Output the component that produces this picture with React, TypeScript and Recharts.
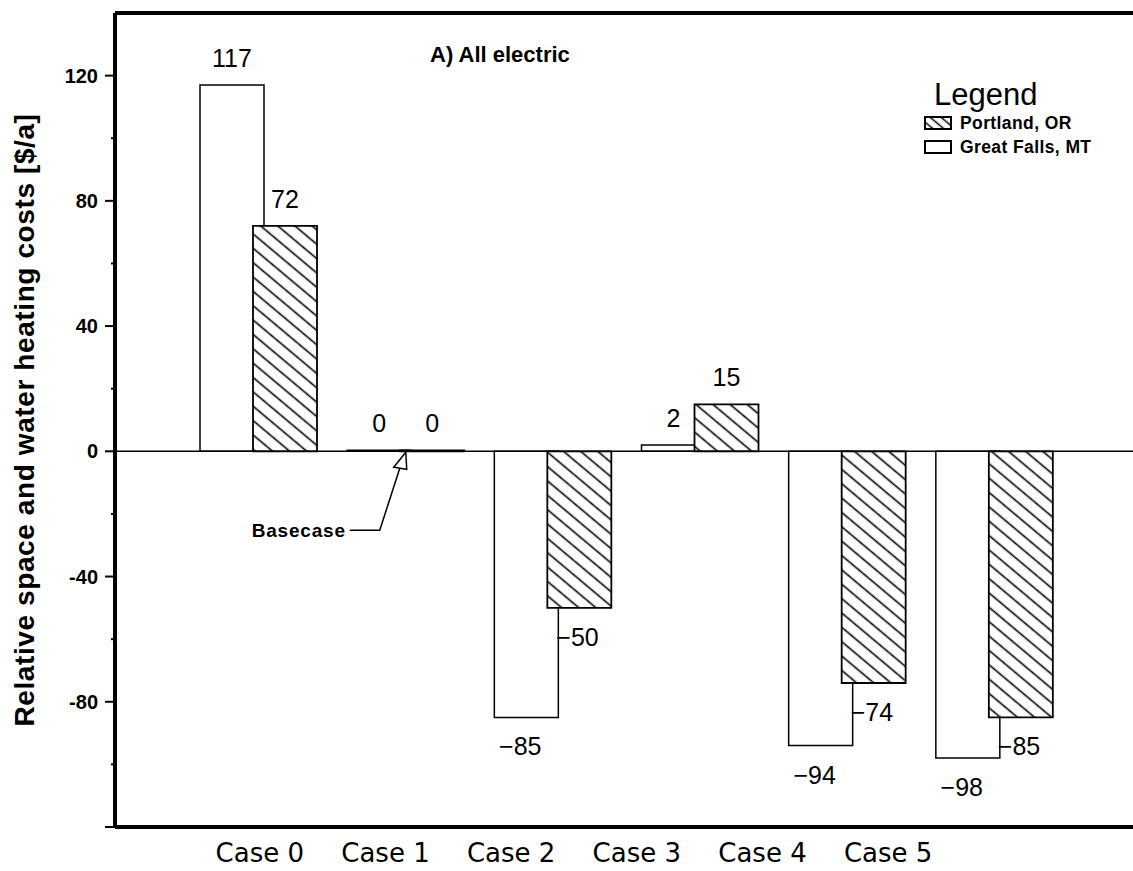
import React from "react";
import {
  BarChart,
  Bar,
  XAxis,
  YAxis,
  ReferenceLine,
  ReferenceDot,
  LabelList,
  Legend,
  Label,
} from "recharts";

const cases = ["Case 0", "Case 1", "Case 2", "Case 3", "Case 4", "Case 5"];
const greatFalls = [117, 0, -85, 2, -94, -98];
const portland = [72, 0, -50, 15, -74, -85];
const seriesNames = { portland: "Portland, OR", greatFalls: "Great Falls, MT" };
const yTicks = [-120, -100, -80, -60, -40, -20, 0, 20, 40, 60, 80, 100, 120];
const yMajor = [-120, -80, -40, 0, 40, 80, 120];
const yLabelled = [-80, -40, 0, 40, 80, 120];

const data = cases.map((name, i) => ({
  name,
  greatFalls: greatFalls[i],
  portland: portland[i],
}));

const SANS = "'Liberation Sans', Arial, sans-serif";

const fmt = (v: number) => (v < 0 ? `\u2212${Math.abs(v)}` : `${v}`);

const YTick = (props: any) => {
  const { x, y, payload } = props;
  const v = payload.value;
  const major = yMajor.includes(v);
  return (
    <g>
      <line x1={x - (major ? 10 : 4)} x2={x} y1={y} y2={y} stroke="#000" strokeWidth={2} />
      {yLabelled.includes(v) && (
        <text
          x={x - 17}
          y={y}
          textAnchor="end"
          dominantBaseline="central"
          fontFamily={SANS}
          fontWeight="bold"
          fontSize={20}
          fill="#000"
        >
          {v}
        </text>
      )}
    </g>
  );
};

const CaseTick = (props: any) => {
  const { x, y, payload } = props;
  return (
    <text
      x={x}
      y={y + 26}
      textAnchor="middle"
      dominantBaseline="central"
      fontFamily="'DejaVu Sans', sans-serif"
      fontSize={26}
      fill="#000"
    >
      {payload.value}
    </text>
  );
};

const valueText = (x: number, y: number, v: number, anchor: string) => (
  <text
    x={x}
    y={y}
    textAnchor={anchor}
    dominantBaseline="central"
    fontFamily={SANS}
    fontSize={25}
    fill="#000"
  >
    {fmt(v)}
  </text>
);

const gfLabel = (props: any) => {
  const { x, y, width, height, value } = props;
  const v = Number(value);
  const top = Math.min(y, y + height);
  const bottom = Math.max(y, y + height);
  const cx = x + width / 2;
  if (v >= 0) return valueText(cx, top - 27, v, "middle");
  return valueText(cx - 6, bottom + 29, v, "middle");
};

const ptLabel = (props: any) => {
  const { x, y, width, height, value } = props;
  const v = Number(value);
  const top = Math.min(y, y + height);
  const bottom = Math.max(y, y + height);
  if (v >= 0) return valueText(x + width / 2, top - 27, v, "middle");
  return valueText(x + 9, bottom + 29, v, "start");
};

const BasecaseArrow = (props: any) => {
  const { cx, cy } = props;
  return (
    <g>
      <polyline
        points={`${cx - 6},${cy + 17} ${cx - 26},${cy + 79} ${cx - 56},${cy + 79}`}
        fill="none"
        stroke="#000"
        strokeWidth={1.5}
      />
      <polygon
        points={`${cx},${cy + 1} ${cx - 12},${cy + 16} ${cx + 1},${cy + 18}`}
        fill="#fff"
        stroke="#000"
        strokeWidth={1.5}
      />
      <text
        x={cx - 60}
        y={cy + 79}
        textAnchor="end"
        dominantBaseline="central"
        fontFamily={SANS}
        fontWeight="bold"
        fontSize={19}
        letterSpacing={0.8}
        fill="#000"
      >
        Basecase
      </text>
    </g>
  );
};

const LegendBox = () => {
  const rows: Array<keyof typeof seriesNames> = ["portland", "greatFalls"];
  return (
    <div style={{ fontFamily: SANS, color: "#000" }}>
      <div style={{ fontSize: 31, lineHeight: "38px", paddingLeft: 12 }}>Legend</div>
      {rows.map((key) => (
        <div
          key={key}
          style={{ display: "flex", alignItems: "center", height: 24, marginTop: key === "portland" ? -3 : 0 }}
        >
          <svg width={32} height={16} style={{ marginRight: 6 }}>
            <defs>
              <pattern
                id="hatchSmall"
                patternUnits="userSpaceOnUse"
                width={7}
                height={7}
                patternTransform="rotate(40)"
              >
                <rect width={7} height={7} fill="#fff" />
                <line x1={0} y1={3.5} x2={7} y2={3.5} stroke="#000" strokeWidth={1.5} />
              </pattern>
            </defs>
            <rect
              x={3}
              y={2}
              width={26}
              height={12}
              fill={key === "portland" ? "url(#hatchSmall)" : "#fff"}
              stroke="#000"
              strokeWidth={2}
            />
          </svg>
          <span style={{ fontSize: 17.5, fontWeight: "bold", letterSpacing: 0.4 }}>{seriesNames[key]}</span>
        </div>
      ))}
    </div>
  );
};

export default function App() {
  return (
    <div style={{ position: "absolute", left: 0, top: 0, width: 1133, height: 871, background: "#fff" }}>
      <BarChart
        width={1133}
        height={871}
        data={data}
        margin={{ top: 13, right: 0, left: 0, bottom: 0 }}
        barSize={64}
        barGap={-11}
      >
        <defs>
          <pattern
            id="hatch"
            patternUnits="userSpaceOnUse"
            width={11}
            height={11}
            patternTransform="rotate(40)"
          >
            <rect width={11} height={11} fill="#fff" />
            <line x1={0} y1={5.5} x2={11} y2={5.5} stroke="#000" strokeWidth={1.6} />
          </pattern>
        </defs>
        <XAxis
          dataKey="name"
          padding={{ left: 82, right: 182 }}
          height={44}
          axisLine={{ stroke: "#000", strokeWidth: 4 }}
          tickLine={false}
          tickSize={0}
          tickMargin={0}
          tick={<CaseTick />}
          interval={0}
        />
        <XAxis xAxisId="bars" dataKey="name" hide padding={{ left: 70, right: 65 }} />
        <YAxis
          type="number"
          width={115}
          domain={[-120, 140]}
          ticks={yTicks}
          interval={0}
          axisLine={{ stroke: "#000", strokeWidth: 4 }}
          tickLine={false}
          tickSize={0}
          tickMargin={0}
          tick={<YTick />}
        >
          <Label
            content={(p: any) => {
              const vb = p.viewBox;
              const cy = vb.y + vb.height / 2;
              return (
                <text
                  x={24}
                  y={cy}
                  transform={`rotate(-90, 24, ${cy})`}
                  textAnchor="middle"
                  dominantBaseline="central"
                  fontFamily={SANS}
                  fontWeight="bold"
                  fontSize={28}
                  letterSpacing={0.6}
                  fill="#000"
                >
                  Relative space and water heating costs [$/a]
                </text>
              );
            }}
          />
        </YAxis>
        <Legend
          layout="horizontal"
          verticalAlign="middle"
          align="center"
          content={<LegendBox />}
          wrapperStyle={{ position: "absolute", left: 922, top: 76, width: 200 }}
        />
        <Bar
          xAxisId="bars"
          dataKey="greatFalls"
          name={seriesNames.greatFalls}
          fill="#fff"
          stroke="#000"
          strokeWidth={1.5}
          minPointSize={1}
          isAnimationActive={false}
        >
          <LabelList dataKey="greatFalls" content={gfLabel} />
        </Bar>
        <Bar
          xAxisId="bars"
          dataKey="portland"
          name={seriesNames.portland}
          fill="url(#hatch)"
          stroke="#000"
          strokeWidth={1.8}
          minPointSize={1}
          isAnimationActive={false}
        >
          <LabelList dataKey="portland" content={ptLabel} />
        </Bar>
        <ReferenceLine y={0} stroke="#000" strokeWidth={1.5} />
        <ReferenceLine y={140} stroke="#000" strokeWidth={4} />
        <ReferenceDot xAxisId="bars" x="Case 1" y={0} r={0} shape={BasecaseArrow} />
      </BarChart>
      <div
        style={{
          position: "absolute",
          left: 430,
          top: 42,
          fontFamily: SANS,
          fontWeight: "bold",
          fontSize: 22,
          lineHeight: "26px",
          color: "#000",
          whiteSpace: "nowrap",
        }}
      >
        A) All electric
      </div>
    </div>
  );
}
